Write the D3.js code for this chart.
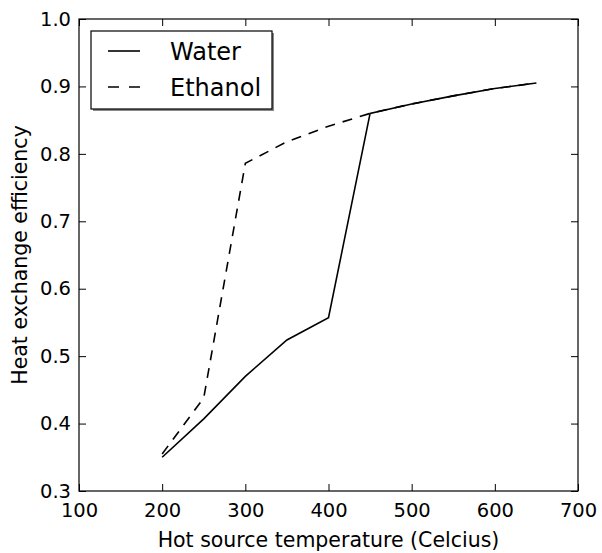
<!DOCTYPE html>
<html><head><meta charset="utf-8">
<script src="https://cdn.jsdelivr.net/npm/d3@7"></script>
<style>body{margin:0;background:#fff}svg{display:block}text{font-family:"DejaVu Sans",sans-serif;fill:#000}</style>
</head><body><svg id="c" width="602" height="553"></svg>
<script>
const temps = [200, 250, 300, 350, 400, 450, 500, 550, 600, 650];
const water = [0.350, 0.407, 0.470, 0.524, 0.557, 0.860, 0.874, 0.886, 0.897, 0.905];
const ethanol = [0.355, 0.438, 0.786, 0.818, 0.841, 0.860, 0.874, 0.886, 0.897, 0.905];
const xTicks = [100, 200, 300, 400, 500, 600, 700];
const yTicks = [0.3, 0.4, 0.5, 0.6, 0.7, 0.8, 0.9, 1.0];

const svg = d3.select("#c");
const L = 79, R = 578, T = 19, B = 491;
const x = d3.scaleLinear().domain([100, 700]).range([L, R]);
const y = d3.scaleLinear().domain([0.3, 1.0]).range([B, T]);
const tl = 7;

const g = svg.append("g");
g.append("g").attr("transform", `translate(0,${B})`)
  .call(d3.axisBottom(x).tickValues(xTicks).tickFormat(d3.format("d")).tickSizeInner(-tl).tickSizeOuter(0).tickPadding(12))
  .call(s => { s.select(".domain").remove(); s.selectAll("text").attr("font-size", 19.5); });
g.append("g").attr("transform", `translate(0,${T})`)
  .call(d3.axisTop(x).tickValues(xTicks).tickFormat("").tickSizeInner(-tl).tickSizeOuter(0))
  .call(s => s.select(".domain").remove());
g.append("g").attr("transform", `translate(${L},0)`)
  .call(d3.axisLeft(y).tickValues(yTicks).tickFormat(d3.format(".1f")).tickSizeInner(-tl).tickSizeOuter(0).tickPadding(8))
  .call(s => { s.select(".domain").remove(); s.selectAll("text").attr("font-size", 19.5); });
g.append("g").attr("transform", `translate(${R},0)`)
  .call(d3.axisRight(y).tickValues(yTicks).tickFormat("").tickSizeInner(-tl).tickSizeOuter(0))
  .call(s => s.select(".domain").remove());
g.selectAll(".tick line").attr("stroke", "#000").attr("stroke-width", 1);

const line = d3.line().x((d, i) => x(temps[i])).y(d => y(d));
svg.append("path").datum(ethanol).attr("d", line).attr("fill", "none")
  .attr("stroke", "#000").attr("stroke-width", 1.6).attr("stroke-dasharray", "10,8");
svg.append("path").datum(water).attr("d", line).attr("fill", "none")
  .attr("stroke", "#000").attr("stroke-width", 1.6);

svg.append("rect").attr("x", L).attr("y", T).attr("width", R - L).attr("height", B - T)
  .attr("fill", "none").attr("stroke", "#000").attr("stroke-width", 1.2);

// legend
const lg = svg.append("g");
lg.append("rect").attr("x", 93).attr("y", 33).attr("width", 181).attr("height", 78).attr("fill", "#888");
lg.append("rect").attr("x", 91).attr("y", 31).attr("width", 181).attr("height", 78).attr("fill", "#fff").attr("stroke", "#000").attr("stroke-width", 1.2);
const items = [{name: "Water", dash: null, yy: 51}, {name: "Ethanol", dash: "11,10", yy: 87}];
items.forEach(it => {
  lg.append("line").attr("x1", 108).attr("x2", 140).attr("y1", it.yy).attr("y2", it.yy)
    .attr("stroke", "#000").attr("stroke-width", 1.6).attr("stroke-dasharray", it.dash);
  lg.append("text").attr("x", 170).attr("y", it.yy + 8.5).attr("font-size", 24).text(it.name);
});

svg.append("text").attr("x", (L + R) / 2).attr("y", 547).attr("text-anchor", "middle").attr("font-size", 20.5)
  .text("Hot source temperature (Celcius)");
svg.append("text").attr("transform", `translate(27,${(T + B) / 2}) rotate(-90)`).attr("text-anchor", "middle").attr("font-size", 20.5)
  .text("Heat exchange efficiency");
</script></body></html>
